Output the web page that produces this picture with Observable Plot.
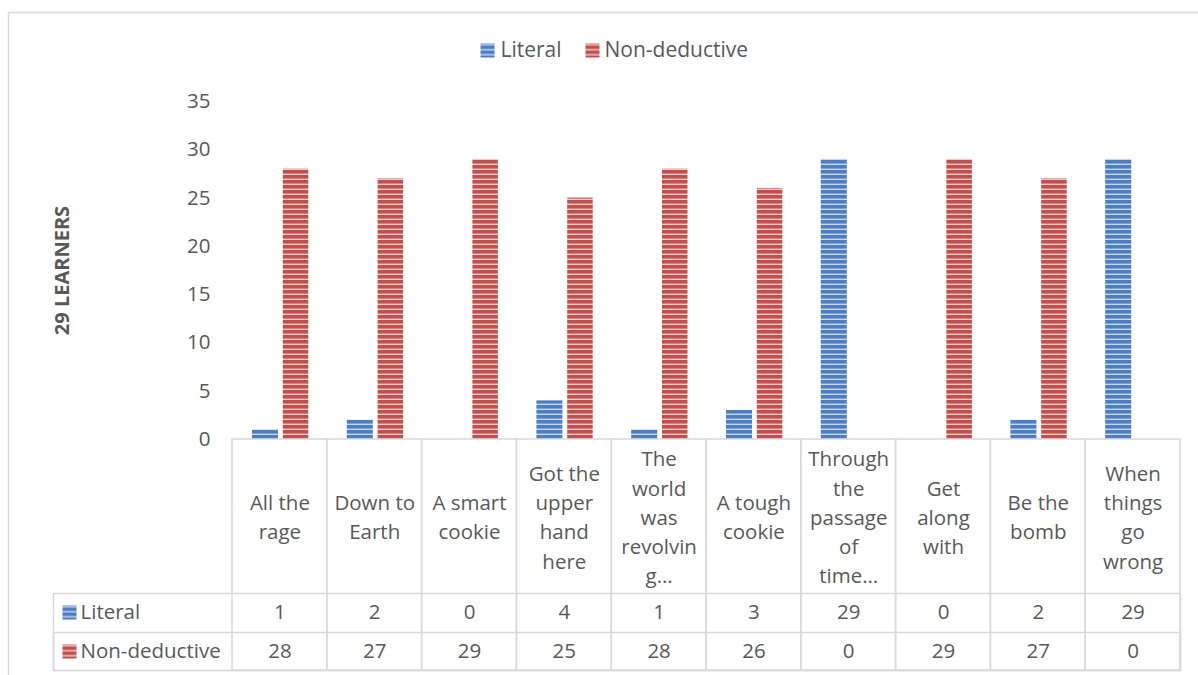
<!DOCTYPE html>
<html>
<head>
<meta charset="utf-8">
<script src="https://cdn.jsdelivr.net/npm/d3@7"></script>
<script src="https://cdn.jsdelivr.net/npm/@observablehq/plot@0.6"></script>
<style>
  html, body { margin: 0; padding: 0; background: #fff; overflow: hidden; }
  #chart { position: relative; width: 1198px; height: 675px; }
</style>
</head>
<body>
<svg width="0" height="0" style="position:absolute">
  <defs>
    <pattern id="stripe-blue" patternUnits="userSpaceOnUse" width="10" height="5">
      <rect width="10" height="5" fill="#4b7ec3"></rect>
      <rect y="3.6" width="10" height="1.4" fill="#c9d7ee"></rect>
    </pattern>
    <pattern id="stripe-red" patternUnits="userSpaceOnUse" width="10" height="5">
      <rect width="10" height="5" fill="#c24f4c"></rect>
      <rect y="3.6" width="10" height="1.4" fill="#f2cbc8"></rect>
    </pattern>
  </defs>
</svg>
<div id="chart"></div>
<script>
// ---- data ----
const categories = [
  "All the\nrage",
  "Down to\nEarth",
  "A smart\ncookie",
  "Got the\nupper\nhand\nhere",
  "The\nworld\nwas\nrevolvin\ng…",
  "A tough\ncookie",
  "Through\nthe\npassage\nof\ntime…",
  "Get\nalong\nwith",
  "Be the\nbomb",
  "When\nthings\ngo\nwrong"
];
const series = ["Literal", "Non-deductive"];
const literal = [1, 2, 0, 4, 1, 3, 29, 0, 2, 29];
const nonDeductive = [28, 27, 29, 25, 28, 26, 0, 29, 27, 0];
const yTicks = [0, 5, 10, 15, 20, 25, 30, 35];
const yTitle = "29 LEARNERS";

// ---- derived tables ----
const values = [literal, nonDeductive];
const rows = series.map((s, i) => categories.map((c, j) => ({cat: c, series: s, value: values[i][j]})));
const fills = ["url(#stripe-blue)", "url(#stripe-red)"];
const textColor = "#595959";
const gridColor = "#d9d9d9";

// bar placement within each column (px insets)
const barInsets = [
  {insetLeft: 20, insetRight: 48.8},
  {insetLeft: 50.8, insetRight: 18.5}
];
// row offsets of the data table below the axis (px from plot bottom)
const rowDy = [173, 212];
// legend offsets (px from top-left of plot area)
const legendDx = [[255, 268], [360, 372]];

const marks = [
  // outer chart border
  Plot.frame({stroke: gridColor, strokeWidth: 1.5, insetLeft: -224, insetTop: -89, insetRight: -40, insetBottom: -260}),
  // bars
  ...rows.map((r, i) => Plot.barY(r, {x: "cat", y: "value", fill: fills[i], ...barInsets[i]})),
  // data table: column cells
  Plot.cell(categories, {x: d => d, fill: "none", stroke: gridColor, strokeWidth: 1.5, insetTop: 338, insetBottom: -231}),
  // data table: row lines
  Plot.frame({stroke: gridColor, strokeWidth: 1.5, insetLeft: -179, insetTop: 492, insetBottom: -231}),
  Plot.frame({stroke: gridColor, strokeWidth: 1.5, insetLeft: -179, insetTop: 531, insetBottom: -231}),
  // category labels
  Plot.text(categories, {x: d => d, text: d => d, frameAnchor: "bottom", dy: 76, lineAnchor: "middle", lineHeight: 1.427, fill: textColor}),
  // row keys, labels and values
  ...series.flatMap((s, i) => [
    Plot.dot([s], {frameAnchor: "bottom-left", dx: -163, dy: rowDy[i], symbol: "square", r: 7.9, fill: fills[i], stroke: null}),
    Plot.text([s], {frameAnchor: "bottom-left", dx: -152, dy: rowDy[i], text: d => d, textAnchor: "start", lineAnchor: "middle", fill: textColor}),
    Plot.text(rows[i], {x: "cat", text: d => String(d.value), frameAnchor: "bottom", dy: rowDy[i], lineAnchor: "middle", fill: textColor})
  ]),
  // legend
  ...series.flatMap((s, i) => [
    Plot.dot([s], {frameAnchor: "top-left", dx: legendDx[i][0], dy: -51, symbol: "square", r: 7.9, fill: fills[i]}),
    Plot.text([s], {frameAnchor: "top-left", dx: legendDx[i][1], dy: -51, text: d => d, textAnchor: "start", lineAnchor: "middle", fill: textColor, fontSize: 21})
  ]),
  // y axis title
  Plot.text([yTitle], {frameAnchor: "left", dx: -170, text: d => d, rotate: -90, textAnchor: "middle", lineAnchor: "middle", fontWeight: "bold", fill: textColor, fontSize: 20})
];

const chart = Plot.plot({
  width: 1198,
  height: 675,
  marginLeft: 232,
  marginRight: 18,
  marginTop: 101,
  marginBottom: 236,
  x: {type: "band", domain: categories, padding: 0, round: false, axis: null},
  y: {domain: [0, 35], ticks: yTicks, tickSize: 0, tickPadding: 22, label: null},
  style: {fontFamily: "'Open Sans', sans-serif", fontSize: "20.5px", color: textColor, background: "#fff", overflow: "visible"},
  marks
});
document.getElementById("chart").appendChild(chart);
</script>
</body>
</html>
